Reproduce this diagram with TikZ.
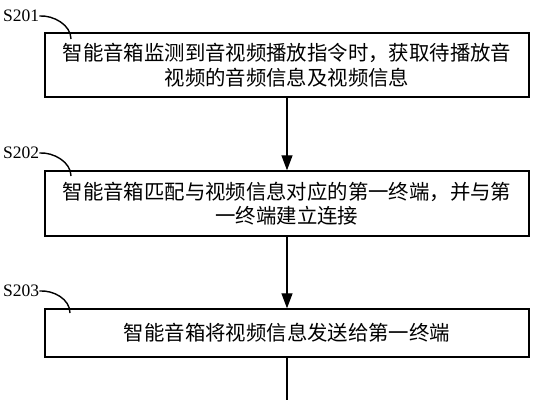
\documentclass[tikz,border=0pt]{standalone}
\usepackage{fontspec}
\setmainfont{Liberation Serif}
\newfontfamily\cjk{Noto Sans CJK SC}
\usetikzlibrary{arrows.meta}
\begin{document}
\begin{tikzpicture}[x=1pt,y=-1pt,
  box/.style={draw=black, line width=1.4pt, minimum width=484pt, align=center,
    font=\cjk\fontsize{20.4}{24.5}\selectfont, inner sep=0pt},
  arr/.style={draw=black, line width=1.3pt, -{Triangle[length=15pt,width=11pt]}},
  lab/.style={font=\fontsize{17.5}{18}\selectfont, inner sep=0pt, anchor=west},
  hook/.style={draw=black, line width=1.4pt}]
\useasboundingbox (0,0) rectangle (536,400);
\node[box, minimum height=64pt] (b1) at (287,65)
  {智能音箱监测到音视频播放指令时，获取待播放音\\视频的音频信息及视频信息};
\node[box, minimum height=65pt] (b2) at (287,203.5)
  {智能音箱匹配与视频信息对应的第一终端，并与第\\一终端建立连接};
\node[box, minimum height=48pt] (b3) at (287,333)
  {智能音箱将视频信息发送给第一终端};
\coordinate (end) at (287,400);
\draw[arr] (b1) -- (b2);
\draw[arr] (b2) -- (b3);
\draw[line width=1.3pt] (b3) -- (end);
\node[lab] (l1) at (3,16) {S201};
\node[lab] (l2) at (3,153) {S202};
\node[lab] (l3) at (3,291) {S203};
\coordinate (c1) at (71,39);
\coordinate (c2) at (71,176);
\coordinate (c3) at (70,313);
\draw[hook] (l1.east) .. controls +(14,-1) and +(0,-14) .. (c1);
\draw[hook] (l2.east) .. controls +(14,-1) and +(0,-14) .. (c2);
\draw[hook] (l3.east) .. controls +(14,-1) and +(0,-14) .. (c3);
\end{tikzpicture}
\end{document}
